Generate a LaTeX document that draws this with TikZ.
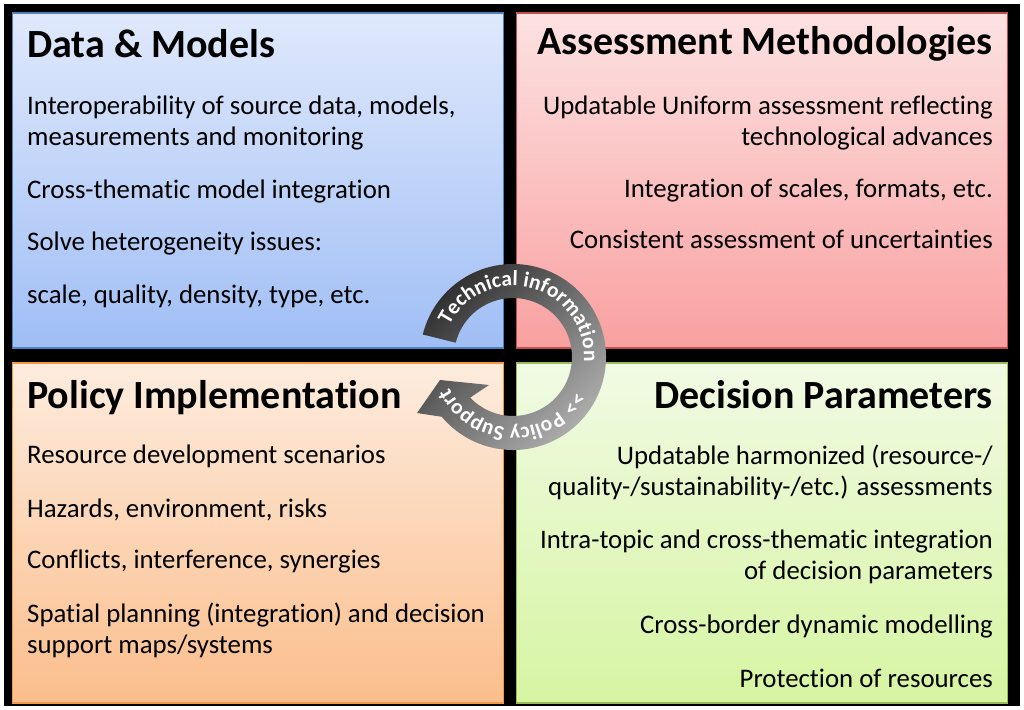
\documentclass[tikz,border=0pt]{standalone}
\usepackage{fontspec}
\setmainfont{Carlito}[Ligatures=NoCommon]
\usetikzlibrary{calc,decorations.text}
\definecolor{bluetop}{RGB}{224,233,252}
\definecolor{bluebot}{RGB}{160,190,245}
\definecolor{blueedge}{RGB}{79,129,189}
\definecolor{redtop}{RGB}{253,226,226}
\definecolor{redbot}{RGB}{249,160,160}
\definecolor{rededge}{RGB}{192,80,77}
\definecolor{orangetop}{RGB}{253,236,222}
\definecolor{orangebot}{RGB}{251,190,140}
\definecolor{orangeedge}{RGB}{247,150,70}
\definecolor{greentop}{RGB}{241,250,228}
\definecolor{greenbot}{RGB}{214,245,162}
\definecolor{greenedge}{RGB}{155,187,89}
\newcommand\ringfont{\bfseries\fontsize{21.5}{21.5}\selectfont}

\begin{document}
\begin{tikzpicture}[x=1pt,y=-1pt,
    quad/.style={draw,line width=1.5pt,minimum width=491pt,inner sep=0pt},
    title/.style={inner sep=0pt,font=\bfseries\fontsize{40}{42}\selectfont},
    item/.style={inner sep=0pt,font=\fontsize{26.8}{31}\selectfont},
    ringtext/.style={decorate,decoration={text along path,text align=center,text color=white}}]
  \useasboundingbox (0,0) rectangle (1024,709);
  \fill[white] (0,0) rectangle (1024,709);
  \fill[black] (4,4) rectangle (1020,706);
  %四个方框
  \node[quad,minimum height=335pt,draw=blueedge,top color=bluetop,bottom color=bluebot] (dm) at (258,180.5) {};
  \node[quad,minimum height=335pt,draw=rededge,top color=redtop,bottom color=redbot] (am) at (762,180.5) {};
  \node[quad,minimum height=340pt,draw=orangeedge,top color=orangetop,bottom color=orangebot] (pi) at (258,533) {};
  \node[quad,minimum height=340pt,draw=greenedge,top color=greentop,bottom color=greenbot] (dp) at (762,533) {};

  %左上
  \node[title,anchor=base west] (dmtitle) at (27,57) {Data \& Models};
  \node[item,anchor=base west,align=left] (dm1) at (27,145) {Interoperability of source data, models,\\measurements and monitoring};
  \node[item,anchor=base west] (dm2) at (27,198) {Cross-thematic model integration};
  \node[item,anchor=base west] (dm3) at (27,250) {Solve heterogeneity issues:};
  \node[item,anchor=base west] (dm4) at (27,303) {scale, quality, density, type, etc.};

  %右上
  \node[title,anchor=base east] (amtitle) at (993,55) {Assessment Methodologies};
  \node[item,anchor=base east,align=right] (am1) at (993,145) {Updatable Uniform assessment reflecting\\technological advances};
  \node[item,anchor=base east] (am2) at (993,197) {Integration of scales, formats, etc.};
  \node[item,anchor=base east] (am3) at (993,248) {Consistent assessment of uncertainties};

  %左下
  \node[title,anchor=base west] (pititle) at (27,408) {Policy Implementation};
  \node[item,anchor=base west] (pi1) at (27,463) {Resource development scenarios};
  \node[item,anchor=base west] (pi2) at (27,517) {Hazards, environment, risks};
  \node[item,anchor=base west] (pi3) at (27,568) {Conflicts, interference, synergies};
  \node[item,anchor=base west,align=left] (pi4) at (27,653) {Spatial planning (integration) and decision\\support maps/systems};

  %右下
  \node[title,anchor=base east] (dptitle) at (993,408) {Decision Parameters};
  \node[item,anchor=base east,align=right] (dp1) at (993,495) {Updatable harmonized (resource-/\\quality-/sustainability-/etc.) assessments};
  \node[item,anchor=base east,align=right] (dp2) at (993,579) {Intra-topic and cross-thematic integration\\of decision parameters};
  \node[item,anchor=base east] (dp3) at (993,633) {Cross-border dynamic modelling};
  \node[item,anchor=base east] (dp4) at (993,687) {Protection of resources};

  %环形箭头
  \coordinate (ring) at (513,357);
  \shade[top color=black!82,bottom color=black!30,shading angle=45]
    ($(ring)+(-166:93)$) arc[start angle=-166,end angle=140,radius=93]
    -- (417,413) -- (440,380) -- (489,385)
    -- ($(ring)+(136.5:59)$) arc[start angle=136.5,end angle=-166,radius=59] -- cycle;
  \path[ringtext,decoration={text={|\ringfont|Technical information}}]
    ($(ring)+(-160:71)$) arc[start angle=-160,end angle=10,radius=71];
  \path[ringtext,decoration={text={|\ringfont|>> Policy Support}}]
    ($(ring)+(4:71)$) arc[start angle=4,end angle=179,radius=71];
\end{tikzpicture}
\end{document}
